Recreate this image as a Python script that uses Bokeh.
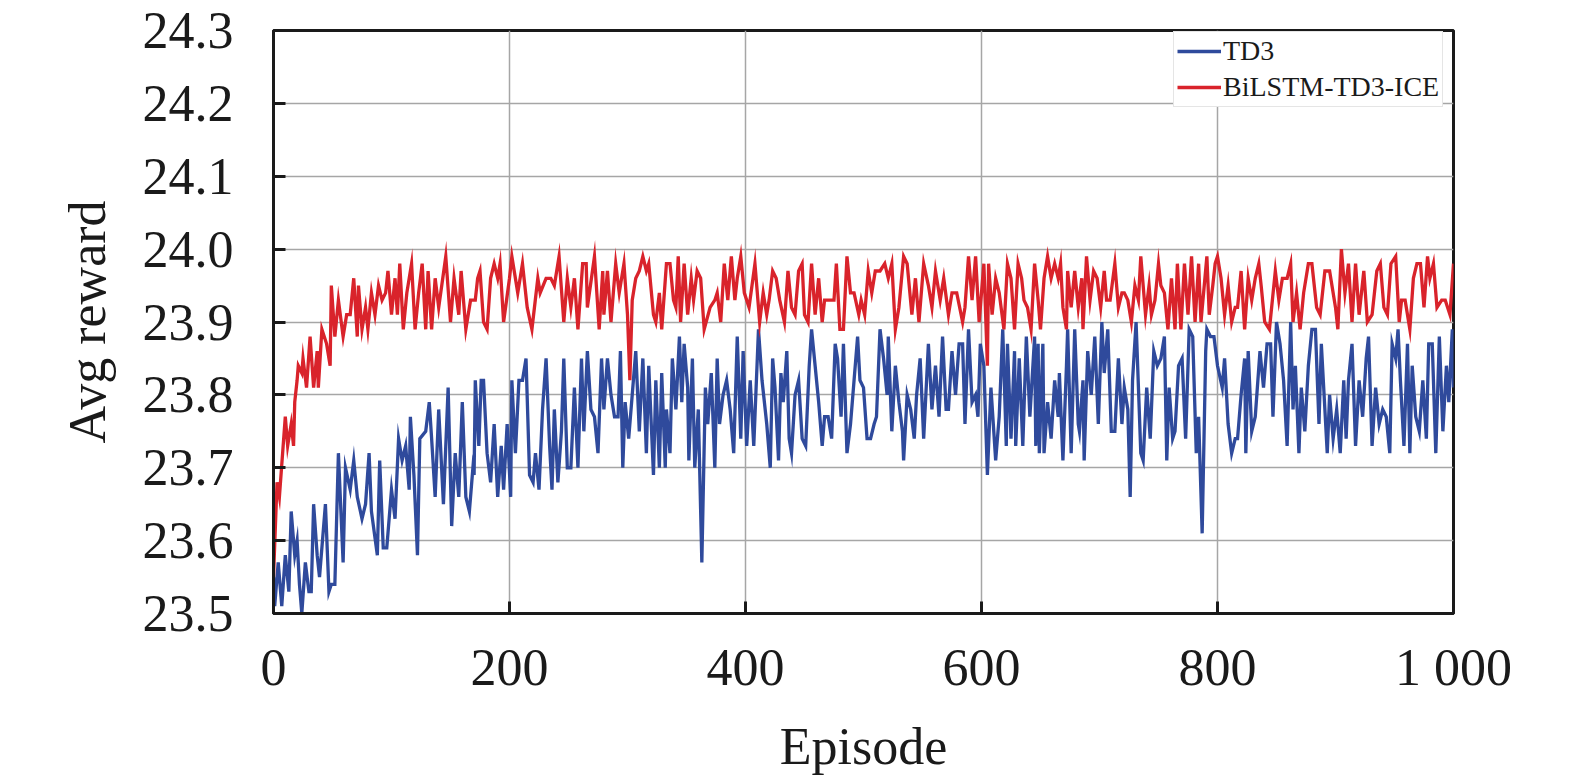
from bokeh.plotting import figure
from bokeh.models import Range1d, FixedTicker, Legend, LegendItem, NumeralTickFormatter
from bokeh.embed import file_html
from bokeh.resources import INLINE

# ---- data (episode, average reward) ----
td3_episodes = [
    0, 1, 4, 7, 10, 13, 15, 18, 20, 22, 24, 27, 30, 32, 34, 37, 39, 44, 47, 49,
    52, 55, 59, 61, 65, 68, 71, 75, 78, 81, 83, 88, 90, 93, 96, 100, 103, 106, 109, 112,
    115, 116, 119, 122, 124, 129, 132, 134, 137, 140, 144, 148, 151, 154, 157, 160, 163, 166, 169, 170,
    171, 174, 176, 178, 181, 184, 187, 190, 193, 195, 198, 201, 202, 205, 208, 211, 214, 217, 220, 222,
    225, 228, 231, 234, 236, 238, 241, 244, 246, 249, 252, 255, 258, 261, 263, 266, 269, 272, 275, 278,
    280, 283, 286, 289, 292, 294, 296, 298, 301, 304, 307, 310, 313, 316, 318, 322, 324, 327, 329, 332,
    333, 336, 338, 341, 344, 346, 348, 351, 352, 355, 357, 360, 363, 366, 368, 371, 374, 376, 378, 381,
    384, 387, 390, 393, 396, 398, 401, 404, 407, 411, 414, 418, 421, 423, 425, 428, 430, 432, 435, 437,
    439, 442, 445, 448, 451, 454, 456, 459, 462, 465, 467, 470, 473, 476, 478, 481, 483, 486, 489, 492,
    495, 497, 500, 503, 506, 509, 511, 514, 517, 520, 521, 524, 527, 530, 533, 534, 537, 540, 543, 545,
    548, 551, 555, 558, 561, 564, 567, 570, 572, 575, 578, 581, 584, 586, 589, 592, 595, 597, 599, 602,
    605, 608, 612, 615, 618, 621, 622, 625, 628, 629, 632, 635, 638, 641, 645, 646, 648, 649, 652, 653,
    656, 659, 662, 665, 666, 669, 672, 673, 676, 679, 682, 683, 686, 687, 690, 693, 696, 699, 702, 704,
    707, 710, 713, 716, 719, 721, 724, 726, 728, 731, 735, 737, 740, 743, 746, 749, 752, 755, 757, 759,
    762, 764, 767, 770, 773, 776, 779, 782, 784, 787, 790, 791, 794, 797, 800, 804, 806, 809, 812, 815,
    817, 820, 823, 824, 826, 829, 832, 836, 839, 842, 845, 847, 850, 853, 856, 859, 862, 864, 866, 869,
    871, 874, 877, 880, 883, 886, 888, 893, 895, 898, 901, 904, 907, 909, 911, 914, 917, 920, 923, 926,
    928, 931, 934, 937, 940, 943, 946, 948, 951, 953, 955, 958, 961, 963, 965, 968, 971, 974, 977, 979,
    982, 985, 988, 991, 994, 996, 999, 1000,
]
td3 = [
    23.55, 23.51, 23.57, 23.51, 23.58, 23.53, 23.64, 23.58, 23.60, 23.54, 23.50, 23.57, 23.53, 23.53, 23.65, 23.58, 23.55, 23.65, 23.53, 23.54,
    23.54, 23.72, 23.57, 23.70, 23.67, 23.71, 23.66, 23.63, 23.65, 23.72, 23.64, 23.58, 23.71, 23.59, 23.59, 23.67, 23.63, 23.74, 23.71, 23.73,
    23.67, 23.77, 23.69, 23.58, 23.74, 23.75, 23.79, 23.74, 23.66, 23.78, 23.65, 23.81, 23.62, 23.72, 23.66, 23.79, 23.66, 23.64, 23.70, 23.69,
    23.82, 23.73, 23.82, 23.82, 23.72, 23.68, 23.76, 23.66, 23.73, 23.67, 23.76, 23.66, 23.82, 23.72, 23.82, 23.82, 23.85, 23.69, 23.68, 23.72,
    23.67, 23.78, 23.85, 23.73, 23.67, 23.78, 23.68, 23.75, 23.85, 23.70, 23.70, 23.81, 23.70, 23.85, 23.75, 23.86, 23.78, 23.77, 23.72, 23.85,
    23.78, 23.85, 23.80, 23.77, 23.77, 23.86, 23.70, 23.79, 23.74, 23.80, 23.86, 23.75, 23.85, 23.72, 23.84, 23.69, 23.82, 23.70, 23.83, 23.70,
    23.78, 23.72, 23.85, 23.78, 23.88, 23.79, 23.87, 23.81, 23.71, 23.85, 23.70, 23.78, 23.57, 23.81, 23.76, 23.83, 23.70, 23.85, 23.76, 23.80,
    23.82, 23.78, 23.72, 23.88, 23.74, 23.86, 23.73, 23.82, 23.73, 23.89, 23.82, 23.76, 23.70, 23.85, 23.81, 23.71, 23.83, 23.79, 23.86, 23.74,
    23.72, 23.80, 23.82, 23.74, 23.73, 23.84, 23.89, 23.84, 23.79, 23.73, 23.77, 23.77, 23.74, 23.87, 23.85, 23.77, 23.87, 23.72, 23.76, 23.82,
    23.88, 23.82, 23.81, 23.74, 23.74, 23.76, 23.77, 23.89, 23.85, 23.80, 23.88, 23.75, 23.84, 23.79, 23.75, 23.71, 23.80, 23.78, 23.74, 23.80,
    23.85, 23.74, 23.87, 23.78, 23.84, 23.77, 23.88, 23.78, 23.78, 23.86, 23.80, 23.87, 23.87, 23.76, 23.89, 23.79, 23.80, 23.77, 23.87, 23.84,
    23.69, 23.81, 23.71, 23.77, 23.89, 23.73, 23.87, 23.74, 23.86, 23.73, 23.85, 23.73, 23.88, 23.77, 23.88, 23.73, 23.87, 23.72, 23.87, 23.72,
    23.79, 23.74, 23.82, 23.77, 23.83, 23.71, 23.84, 23.89, 23.72, 23.89, 23.76, 23.75, 23.82, 23.71, 23.86, 23.80, 23.88, 23.76, 23.90, 23.83,
    23.89, 23.75, 23.75, 23.85, 23.76, 23.81, 23.78, 23.66, 23.82, 23.90, 23.72, 23.71, 23.81, 23.74, 23.86, 23.84, 23.85, 23.88, 23.71, 23.81,
    23.74, 23.75, 23.84, 23.85, 23.74, 23.89, 23.88, 23.72, 23.77, 23.61, 23.86, 23.89, 23.88, 23.88, 23.84, 23.81, 23.85, 23.76, 23.72, 23.74,
    23.74, 23.80, 23.85, 23.72, 23.86, 23.75, 23.77, 23.86, 23.81, 23.87, 23.87, 23.77, 23.90, 23.87, 23.82, 23.73, 23.90, 23.78, 23.84, 23.72,
    23.81, 23.75, 23.84, 23.89, 23.89, 23.76, 23.87, 23.72, 23.80, 23.74, 23.78, 23.72, 23.82, 23.74, 23.82, 23.87, 23.73, 23.82, 23.77, 23.85,
    23.88, 23.73, 23.81, 23.76, 23.78, 23.77, 23.72, 23.87, 23.85, 23.89, 23.82, 23.73, 23.87, 23.72, 23.84, 23.77, 23.75, 23.82, 23.74, 23.87,
    23.87, 23.72, 23.88, 23.75, 23.84, 23.79, 23.89, 23.81,
]

ice_episodes = [
    0, 3, 5, 10, 12, 15, 17, 18, 20, 21, 24, 25, 28, 31, 34, 37, 38, 41, 45, 48,
    49, 52, 55, 59, 62, 65, 68, 71, 72, 75, 78, 80, 83, 86, 89, 92, 95, 97, 100, 103,
    105, 107, 110, 113, 117, 120, 123, 126, 129, 131, 134, 137, 140, 146, 150, 153, 157, 159, 163, 167,
    171, 173, 175, 178, 181, 184, 187, 190, 192, 195, 200, 202, 207, 211, 215, 219, 224, 226, 231, 235,
    238, 242, 246, 249, 252, 255, 258, 262, 265, 266, 272, 276, 279, 280, 283, 286, 290, 293, 297, 300,
    302, 304, 307, 310, 313, 316, 318, 322, 324, 327, 329, 333, 336, 339, 341, 343, 345, 348, 351, 354,
    356, 359, 362, 365, 370, 374, 376, 379, 382, 385, 388, 391, 393, 396, 399, 403, 408, 412, 415, 418,
    420, 423, 426, 429, 433, 436, 439, 442, 445, 448, 450, 453, 456, 459, 462, 465, 467, 472, 475, 477,
    480, 483, 486, 489, 492, 496, 498, 501, 504, 507, 510, 514, 518, 521, 524, 527, 530, 534, 537, 541,
    544, 547, 551, 555, 558, 561, 565, 568, 572, 575, 579, 584, 586, 589, 592, 595, 598, 602, 605, 606,
    609, 612, 615, 619, 622, 625, 628, 631, 634, 636, 639, 642, 645, 648, 650, 653, 656, 659, 662, 665,
    667, 669, 672, 673, 676, 679, 682, 685, 686, 689, 692, 695, 698, 701, 704, 706, 709, 713, 716, 719,
    721, 724, 727, 730, 733, 735, 739, 742, 744, 747, 750, 752, 755, 758, 761, 764, 766, 769, 772, 775,
    778, 781, 784, 786, 791, 793, 796, 798, 800, 803, 806, 809, 812, 815, 817, 820, 823, 826, 829, 832,
    835, 837, 840, 844, 849, 852, 855, 859, 862, 864, 867, 870, 873, 877, 880, 884, 887, 891, 895, 900,
    902, 905, 908, 911, 914, 917, 920, 924, 927, 931, 935, 938, 941, 944, 947, 951, 954, 956, 959, 963,
    966, 969, 972, 975, 978, 980, 983, 986, 990, 993, 997, 1000,
]
bilstm_td3_ice = [
    23.55, 23.68, 23.66, 23.77, 23.73, 23.76, 23.73, 23.79, 23.82, 23.84, 23.83, 23.85, 23.81, 23.88, 23.81, 23.86, 23.81, 23.89, 23.87, 23.84,
    23.95, 23.88, 23.93, 23.88, 23.91, 23.91, 23.96, 23.88, 23.95, 23.89, 23.92, 23.89, 23.94, 23.91, 23.95, 23.93, 23.94, 23.97, 23.91, 23.96,
    23.91, 23.98, 23.89, 23.94, 23.98, 23.89, 23.94, 23.98, 23.89, 23.97, 23.89, 23.96, 23.92, 23.99, 23.90, 23.96, 23.91, 23.97, 23.89, 23.93,
    23.93, 23.96, 23.97, 23.90, 23.89, 23.96, 23.98, 23.96, 23.98, 23.90, 23.96, 23.99, 23.94, 23.98, 23.92, 23.89, 23.96, 23.94, 23.96, 23.96,
    23.95, 23.99, 23.90, 23.96, 23.92, 23.96, 23.89, 23.98, 23.98, 23.92, 23.99, 23.89, 23.97, 23.91, 23.97, 23.90, 23.98, 23.94, 23.98, 23.91,
    23.82, 23.93, 23.96, 23.97, 23.99, 23.97, 23.98, 23.91, 23.90, 23.94, 23.89, 23.98, 23.98, 23.93, 23.92, 23.99, 23.90, 23.98, 23.91, 23.96,
    23.93, 23.97, 23.96, 23.89, 23.92, 23.93, 23.94, 23.90, 23.98, 23.93, 23.99, 23.93, 23.96, 23.99, 23.94, 23.92, 23.98, 23.90, 23.94, 23.91,
    23.93, 23.97, 23.96, 23.93, 23.90, 23.97, 23.92, 23.91, 23.97, 23.98, 23.91, 23.90, 23.98, 23.91, 23.96, 23.90, 23.93, 23.93, 23.93, 23.98,
    23.89, 23.89, 23.99, 23.94, 23.94, 23.91, 23.93, 23.91, 23.97, 23.94, 23.97, 23.97, 23.98, 23.96, 23.98, 23.89, 23.92, 23.99, 23.98, 23.91,
    23.96, 23.90, 23.98, 23.95, 23.92, 23.97, 23.93, 23.96, 23.91, 23.94, 23.94, 23.90, 23.92, 23.99, 23.93, 23.99, 23.90, 23.98, 23.84, 23.98,
    23.91, 23.96, 23.94, 23.89, 23.98, 23.96, 23.89, 23.98, 23.96, 23.93, 23.92, 23.89, 23.98, 23.93, 23.89, 23.96, 23.99, 23.96, 23.98, 23.96,
    23.98, 23.92, 23.89, 23.97, 23.92, 23.97, 23.92, 23.96, 23.89, 23.99, 23.93, 23.97, 23.96, 23.92, 23.97, 23.93, 23.93, 23.98, 23.92, 23.94,
    23.94, 23.93, 23.90, 23.95, 23.93, 23.99, 23.91, 23.95, 23.91, 23.93, 23.98, 23.95, 23.94, 23.89, 23.96, 23.89, 23.98, 23.89, 23.98, 23.91,
    23.99, 23.90, 23.98, 23.90, 23.99, 23.91, 23.95, 23.98, 23.99, 23.96, 23.91, 23.95, 23.90, 23.92, 23.92, 23.97, 23.89, 23.96, 23.93, 23.96,
    23.98, 23.95, 23.90, 23.89, 23.97, 23.93, 23.96, 23.96, 23.98, 23.90, 23.94, 23.89, 23.94, 23.98, 23.98, 23.92, 23.91, 23.97, 23.97, 23.92,
    23.89, 24.00, 23.94, 23.98, 23.90, 23.98, 23.91, 23.97, 23.90, 23.91, 23.97, 23.98, 23.92, 23.91, 23.98, 23.99, 23.90, 23.93, 23.93, 23.89,
    23.96, 23.98, 23.98, 23.92, 23.99, 23.96, 23.98, 23.92, 23.93, 23.93, 23.91, 23.98,
]

x_ticks = [0, 200, 400, 600, 800, 1000]
x_tick_labels = ["0", "200", "400", "600", "800", "1 000"]
y_ticks = [23.5, 23.6, 23.7, 23.8, 23.9, 24.0, 24.1, 24.2, 24.3]

series_names = ["TD3", "BiLSTM-TD3-ICE"]
series_colors = ["#2f4a9c", "#d9232b"]

FONT = "Liberation Serif"

p = figure(
    width=1572, height=780,
    x_range=Range1d(0, 1000), y_range=Range1d(23.5, 24.3),
    output_backend="svg", toolbar_location=None,
    min_border_left=273, min_border_right=119,
    min_border_top=30, min_border_bottom=167,
    background_fill_color="white", border_fill_color="white",
)

r1 = p.line(td3_episodes, td3, line_color=series_colors[0], line_width=3.3, line_join="miter")
r2 = p.line(ice_episodes, bilstm_td3_ice, line_color=series_colors[1], line_width=3.3, line_join="miter")

# axes
p.xaxis.ticker = FixedTicker(ticks=x_ticks)
p.xaxis.major_label_overrides = {t: l for t, l in zip(x_ticks, x_tick_labels)}
p.yaxis.ticker = FixedTicker(ticks=y_ticks)
p.yaxis.formatter = NumeralTickFormatter(format="0.0")
p.xaxis.axis_label = "Episode"
p.yaxis.axis_label = "Avg reward"

for ax in (p.xaxis[0], p.yaxis[0]):
    ax.axis_line_color = "#1a1a1a"
    ax.axis_line_width = 3
    ax.major_tick_line_color = "#1a1a1a"
    ax.major_tick_line_width = 3
    ax.major_tick_in = 12
    ax.major_tick_out = 0
    ax.minor_tick_line_color = None
    ax.major_label_text_font = FONT
    ax.major_label_text_font_size = "52px"
    ax.major_label_text_color = "#1a1a1a"
    ax.axis_label_text_font = FONT
    ax.axis_label_text_font_size = "52px"
    ax.axis_label_text_font_style = "normal"
    ax.axis_label_text_color = "#1a1a1a"

p.xaxis.major_label_standoff = 25
p.xaxis.axis_label_standoff = 19
p.yaxis.major_label_standoff = 40
p.yaxis.axis_label_standoff = 24

p.outline_line_color = "#1a1a1a"
p.outline_line_width = 3
p.outline_line_alpha = 1

p.xgrid.ticker = FixedTicker(ticks=x_ticks)
p.ygrid.ticker = FixedTicker(ticks=y_ticks)
for g in (p.xgrid[0], p.ygrid[0]):
    g.grid_line_color = "#a6a6a6"
    g.grid_line_width = 1.5

legend = Legend(
    items=[LegendItem(label=series_names[0], renderers=[r1]),
           LegendItem(label=series_names[1], renderers=[r2])],
    location=(900, 506),
    padding=3,
    spacing=4,
    glyph_width=44,
    glyph_height=28,
    label_height=28,
    label_standoff=2,
    label_text_font=FONT,
    label_text_font_size="28px",
    label_text_color="#1a1a1a",
    border_line_color="#cccccc",
    border_line_width=1.5,
    background_fill_color="white",
    background_fill_alpha=1,
)
p.add_layout(legend)

open("out.html", "w").write(file_html(p, INLINE))
